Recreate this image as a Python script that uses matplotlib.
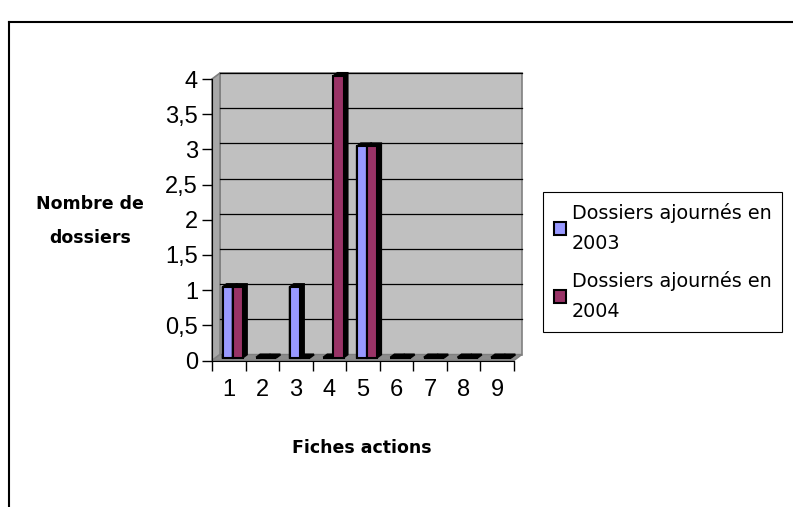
import numpy as np
import matplotlib
matplotlib.use("Agg")
import matplotlib.pyplot as plt
from matplotlib.patches import Polygon, Rectangle
from matplotlib.lines import Line2D

# data
categories = [1, 2, 3, 4, 5, 6, 7, 8, 9]
dossiers_2003 = [1, 0, 1, 0, 3, 0, 0, 0, 0]
dossiers_2004 = [1, 0, 0, 4, 3, 0, 0, 0, 0]
series_names = ["Dossiers ajournés en\n2003", "Dossiers ajournés en\n2004"]
yticks = [0, 0.5, 1, 1.5, 2, 2.5, 3, 3.5, 4]
ytick_labels = ["0", "0,5", "1", "1,5", "2", "2,5", "3", "3,5", "4"]

blue = "#9999ff"
plum = "#993366"
wall = "#c0c0c0"

fig = plt.figure(figsize=(7.93, 5.07), dpi=100)
W, H = 793.0, 507.0
ax = fig.add_axes([212 / W, 1 - 360.5 / H, 302 / W, 281.5 / H])
ax.set_facecolor("none")
ax.set_xlim(0.5, 9.5)
ax.set_ylim(0, 4)

# fake 3d depth (in data units)
dx = 8 / (302 / 9.0)
dy = 6 / (281.5 / 4.0)

# back wall, side wall, floor
ax.add_patch(Rectangle((0.5 + dx, dy), 9, 4, facecolor=wall, edgecolor="#808080",
                       lw=1.2, clip_on=False, zorder=0))
ax.add_patch(Polygon([(0.5, 0), (0.5 + dx, dy), (0.5 + dx, 4 + dy), (0.5, 4)],
                     closed=True, facecolor="#a8a8a8", edgecolor="#808080",
                     lw=1.2, clip_on=False, zorder=0.5))
ax.add_patch(Polygon([(0.5, 0), (9.5, 0), (9.5 + dx, dy), (0.5 + dx, dy)],
                     closed=True, facecolor="#8c8c8c", edgecolor="#808080",
                     lw=1.0, clip_on=False, zorder=0.5))
for yv in yticks[1:]:
    ax.plot([0.5 + dx, 9.5 + dx], [yv + dy, yv + dy], color="black", lw=0.9,
            clip_on=False, zorder=1)

# bars
x = np.array(categories, dtype=float)
bw = 0.3
xb = x - bw / 2 + dx / 2
xr = x + bw / 2 + dx / 2


def depth(xc, vals, zo):
    for xi, v in zip(xc, vals):
        x0, x1 = xi - bw / 2, xi + bw / 2
        y0, y1 = dy / 2, v + dy / 2
        hx, hy = dx / 2, dy / 2
        ax.add_patch(Polygon([(x0, y0), (x1, y0), (x1 + hx, y0 + hy), (x1 + hx, y1 + hy),
                              (x0 + hx, y1 + hy), (x0, y1)], closed=True,
                             facecolor="black", edgecolor="black", lw=1.5,
                             clip_on=False, zorder=zo))


depth(xb, dossiers_2003, 2)
b1 = ax.bar(xb, dossiers_2003, bw, bottom=dy / 2, color=blue, edgecolor="black",
            lw=1.5, zorder=3, label=series_names[0], clip_on=False)
depth(xr, dossiers_2004, 4)
b2 = ax.bar(xr, dossiers_2004, bw, bottom=dy / 2, color=plum, edgecolor="black",
            lw=1.5, zorder=5, label=series_names[1], clip_on=False)

# axes
for s in ["top", "right"]:
    ax.spines[s].set_visible(False)
ax.spines["left"].set_color("black")
ax.spines["bottom"].set_color("black")
ax.spines["left"].set_zorder(6)
ax.spines["bottom"].set_zorder(6)
ax.set_yticks(yticks)
ax.set_yticklabels(ytick_labels, fontfamily="Liberation Sans", fontsize=17)
ax.set_xticks(x)
ax.set_xticklabels([str(c) for c in categories], fontfamily="Liberation Sans", fontsize=17)
ax.set_xticks(np.arange(0.5, 10, 1), minor=True)
ax.tick_params(axis="x", which="major", length=0, pad=13)
ax.tick_params(axis="x", which="minor", length=7, width=1, direction="out")
ax.tick_params(axis="y", length=7, width=1, direction="out", pad=3)

fig.text(90 / W, 1 - 221 / H, "Nombre de\ndossiers", ha="center", va="center",
         fontsize=12.5, fontweight="bold", family="DejaVu Sans", linespacing=2.1)
fig.text(362 / W, 1 - 448 / H, "Fiches actions", ha="center", va="center",
         fontsize=12.5, fontweight="bold", family="DejaVu Sans")

leg = fig.legend(handles=[b1, b2], loc="upper left",
                 bbox_to_anchor=(543 / W, 1 - 192 / H),
                 prop={"family": "DejaVu Sans", "size": 13.8},
                 frameon=True, fancybox=False, framealpha=1, edgecolor="black",
                 borderpad=0.55, handlelength=0.65, handleheight=0.65,
                 handletextpad=0.3, labelspacing=0.95, borderaxespad=0)
leg.get_frame().set_linewidth(0.8)
for t in leg.get_texts():
    t.set_linespacing(1.75)

# outer chart frame
fig.add_artist(Line2D([9 / W, 9 / W], [0, 1 - 22 / H], color="black", lw=1.5))
fig.add_artist(Line2D([9 / W, 1], [1 - 22 / H, 1 - 22 / H], color="black", lw=1.5))

fig.savefig("out.png", dpi=100)
